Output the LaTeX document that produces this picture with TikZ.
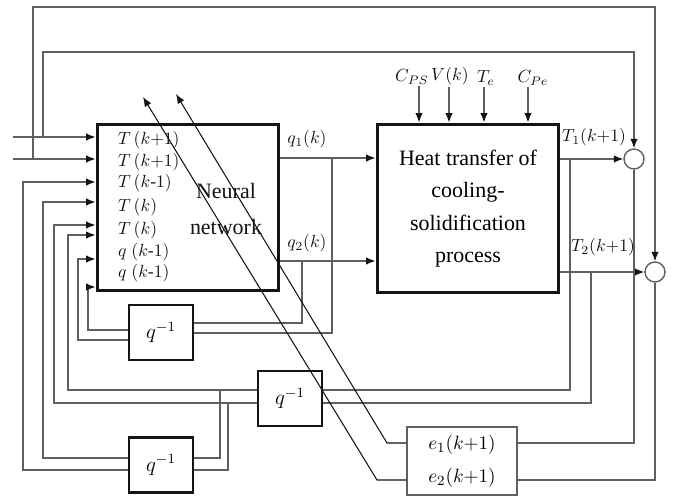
\documentclass[tikz,border=0pt]{standalone}
\usepackage{fontspec}
\setmainfont{Liberation Serif}
\usetikzlibrary{arrows.meta,positioning,calc}
\definecolor{HxInk}{RGB}{20,20,20}
\definecolor{HxWire}{RGB}{95,95,95}
\tikzset{
  hx/block/.style={
    draw=HxInk,
    line width=1.7pt,
    fill=white,
    align=center,
    inner sep=0pt,
    font=\fontsize{12.5}{18.5}\selectfont
  },
  hx/delay/.style={
    draw=HxInk,
    line width=1.3pt,
    fill=white,
    minimum width=1.28cm,
    minimum height=1.1cm,
    inner sep=0pt,
    font=\large
  },
  hx/errbox/.style={
    draw=HxWire,
    line width=0.9pt,
    fill=white,
    align=center,
    inner sep=0pt,
    font=\fontsize{11}{19}\selectfont
  },
  hx/sum/.style={circle, draw=HxWire, line width=0.8pt, fill=white, minimum size=0.4cm, inner sep=0pt},
  hx/wire/.style={draw=HxWire, line width=0.75pt},
  hx/arrow/.style={-{Latex[length=1.9mm,width=1.5mm,color=HxInk]}, draw=HxWire, line width=0.75pt},
  hx/diag/.style={-{Latex[length=1.9mm,width=1.5mm]}, draw=HxInk, line width=0.6pt},
  hx/label/.style={font=\normalsize, inner sep=1pt, text=HxInk}
}
\begin{document}
\begin{tikzpicture}[x=0.02cm,y=-0.02cm]
  \useasboundingbox (0,0) rectangle (674,497);
  % blocks
  \node[hx/block,minimum width=3.64cm,minimum height=3.34cm] (nn) at (188,207.5) {};
  \node[hx/block,minimum width=3.64cm,minimum height=3.38cm] (heat) at (468,208.5) {Heat transfer of\\cooling-\\solidification\\process};
  \node[hx/delay] (dA) at (161,332.5) {$q^{-1}$};
  \node[hx/delay] (dB) at (290,398.5) {$q^{-1}$};
  \node[hx/delay] (dC) at (161,465) {$q^{-1}$};
  \node[hx/errbox,minimum width=2.2cm,minimum height=1.36cm] (err) at (462,461) {$e_1(k{+}1)$\\$e_2(k{+}1)$};
  \node[hx/sum] (sA) at (634,159) {};
  \node[hx/sum] (sB) at (655,272) {};

  % network inputs
  \node[font=\fontsize{12.5}{21}\selectfont,align=center,text=HxInk] (nnlbl) at (226,209) {Neural\\network};
  \node[hx/label,anchor=west] (in1) at (116,140) {$T\,(k{+}1)$};
  \node[hx/label,anchor=west] (in2) at (116,162) {$T\,(k{+}1)$};
  \node[hx/label,anchor=west] (in3) at (116,183) {$T\,(k$-$1)$};
  \node[hx/label,anchor=west] (in4) at (116,207) {$T\,(k)$};
  \node[hx/label,anchor=west] (in5) at (116,230) {$T\,(k)$};
  \node[hx/label,anchor=west] (in6) at (116,252) {$q\;(k$-$1)$};
  \node[hx/label,anchor=west] (in7) at (116,273) {$q\;(k$-$1)$};

  \coordinate (x1) at (13,137);
  \coordinate (x2) at (13,159);
  \coordinate (x1tap) at (43,137);
  \coordinate (x2tap) at (33,159);
  \draw[hx/arrow] (x1) -- (x1 -| nn.west);
  \draw[hx/arrow] (x2) -- (x2 -| nn.west);
  \draw[hx/arrow] (x1tap) -- ++(0,-85) -| (sA.north);
  \draw[hx/arrow] (x2tap) -- ++(0,-152) -| (sB.north);

  % delayed signals back to the network
  \draw[hx/arrow] (dC.west |- 0,470) -| (23,182) -- (nn.west |- 0,182);
  \draw[hx/arrow] (dC.west |- 0,458) -| (43,202) -- (nn.west |- 0,202);
  \draw[hx/arrow] (dB.west |- 0,403) -| (54,225) -- (nn.west |- 0,225);
  \draw[hx/arrow] (dB.west |- 0,390) -| (68,235) -- (nn.west |- 0,235);
  \draw[hx/arrow] (dA.west |- 0,340) -| (78,259) -- (nn.west |- 0,259);
  \draw[hx/arrow] (dA.west |- 0,330) -| (88,287) -- (nn.west |- 0,287);
  \draw[hx/wire] (220,390) |- (dC.east |- 0,458);
  \draw[hx/wire] (228,403) |- (dC.east |- 0,470);
  \draw[hx/wire] (570,159) |- (dB.east |- 0,390);
  \draw[hx/wire] (591,272) |- (dB.east |- 0,403);
  \draw[hx/wire] (302,261) |- (dA.east |- 0,323);
  \draw[hx/wire] (332,158) |- (dA.east |- 0,333);

  % network outputs
  \node[hx/label] (lq1) at (307,139) {$q_1(k)$};
  \node[hx/label] (lq2) at (307,243) {$q_2(k)$};
  \draw[hx/arrow] (nn.east |- 0,158) -- (heat.west |- 0,158);
  \draw[hx/arrow] (nn.east |- 0,261) -- (heat.west |- 0,261);

  % process parameters
  \node[hx/label] (cps) at (412,77) {$C_{PS}$};
  \node[hx/label] (vk) at (450,76) {$V(k)$};
  \node[hx/label] (te) at (486,78) {$T_e$};
  \node[hx/label] (cpe) at (533,78) {$C_{Pe}$};
  \draw[hx/arrow] (cps.south -| 419,0) -- (heat.north -| 419,0);
  \draw[hx/arrow] (vk.south -| 449,0) -- (heat.north -| 449,0);
  \draw[hx/arrow] (te.south -| 484,0) -- (heat.north -| 484,0);
  \draw[hx/arrow] (cpe.south -| 528,0) -- (heat.north -| 528,0);

  % plant outputs and errors
  \node[hx/label] (lt1) at (594,137) {$T_1(k{+}1)$};
  \node[hx/label] (lt2) at (603,247) {$T_2(k{+}1)$};
  \draw[hx/arrow] (heat.east |- sA.west) -- (sA.west);
  \draw[hx/arrow] (heat.east |- sB.west) -- (sB.west);
  \draw[hx/wire] (sA.south) |- (err.east |- 0,443);
  \draw[hx/wire] (sB.south) |- (err.east |- 0,480);
  \draw[hx/diag] (err.west |- 0,443) -- (387,443) -- (176,94);
  \draw[hx/diag] (err.west |- 0,480) -- (377,480) -- (143,97);
\end{tikzpicture}
\end{document}
